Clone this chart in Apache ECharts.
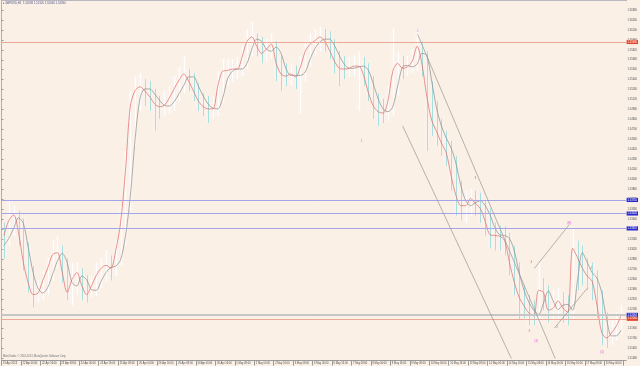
<!DOCTYPE html>
<html><head><meta charset="utf-8">
<script src="https://cdn.jsdelivr.net/npm/echarts@6/dist/echarts.min.js"></script>
<style>html,body{margin:0;padding:0;background:#FAF0E6;overflow:hidden}#c{width:640px;height:366px}</style>
</head><body><div id="c"></div>
<script>
// x-axis tick labels (every 16 H1 bars)
const tickLabels = ["19 Apr 2013","22 Apr 00:00","22 Apr 16:00","23 Apr 08:00","24 Apr 00:00","24 Apr 16:00","25 Apr 08:00","26 Apr 00:00","26 Apr 16:00","29 Apr 08:00","30 Apr 00:00","30 Apr 16:00","1 May 08:00","2 May 00:00","2 May 16:00","3 May 08:00","6 May 00:00","6 May 16:00","7 May 08:00","8 May 00:00","8 May 16:00","9 May 08:00","10 May 00:00","10 May 16:00","13 May 08:00","14 May 00:00","14 May 16:00","15 May 08:00","16 May 00:00","16 May 16:00","17 May 08:00","20 May 00:00"];

// 4-hour samples: fast average (red), slow average (dark), bar highs and lows
const fast = [1.5321,1.5342,1.5350,1.5325,1.5283,1.5254,1.5238,1.5240,1.5258,1.5275,1.5294,1.5297,1.5269,1.5241,1.5259,1.5269,1.5251,1.5238,1.5250,1.5265,1.5275,1.5279,1.5275,1.5300,1.5339,1.5412,1.5503,1.5525,1.5530,1.5524,1.5516,1.5506,1.5502,1.5504,1.5514,1.5527,1.5539,1.5548,1.5538,1.5524,1.5510,1.5502,1.5499,1.5499,1.5531,1.5552,1.5553,1.5555,1.5555,1.5572,1.5594,1.5600,1.5587,1.5577,1.5583,1.5590,1.5563,1.5548,1.5545,1.5548,1.5544,1.5558,1.5580,1.5590,1.5595,1.5600,1.5594,1.5581,1.5566,1.5556,1.5555,1.5556,1.5559,1.5559,1.5546,1.5521,1.5503,1.5495,1.5493,1.5510,1.5552,1.5563,1.5556,1.5558,1.5566,1.5587,1.5562,1.5516,1.5483,1.5467,1.5451,1.5437,1.5405,1.5377,1.5363,1.5363,1.5373,1.5366,1.5359,1.5341,1.5322,1.5321,1.5320,1.5314,1.5283,1.5255,1.5234,1.5222,1.5212,1.5208,1.5244,1.5241,1.5216,1.5219,1.5229,1.5219,1.5213,1.5303,1.5290,1.5275,1.5264,1.5257,1.5223,1.5184,1.5177,1.5184,1.5194,1.5209];
const slow = [1.5307,1.5317,1.5331,1.5346,1.5338,1.5304,1.5269,1.5247,1.5240,1.5248,1.5266,1.5285,1.5296,1.5283,1.5255,1.5250,1.5264,1.5259,1.5245,1.5244,1.5257,1.5269,1.5276,1.5278,1.5287,1.5320,1.5376,1.5457,1.5514,1.5527,1.5527,1.5520,1.5511,1.5504,1.5503,1.5509,1.5520,1.5532,1.5544,1.5544,1.5531,1.5517,1.5506,1.5500,1.5499,1.5514,1.5541,1.5552,1.5555,1.5555,1.5563,1.5583,1.5597,1.5594,1.5583,1.5580,1.5586,1.5577,1.5556,1.5546,1.5546,1.5546,1.5551,1.5569,1.5584,1.5593,1.5597,1.5597,1.5588,1.5574,1.5562,1.5556,1.5556,1.5558,1.5559,1.5553,1.5534,1.5513,1.5499,1.5495,1.5502,1.5531,1.5558,1.5560,1.5558,1.5562,1.5577,1.5574,1.5538,1.5500,1.5475,1.5458,1.5444,1.5422,1.5391,1.5370,1.5363,1.5367,1.5370,1.5363,1.5350,1.5332,1.5322,1.5321,1.5317,1.5299,1.5269,1.5244,1.5227,1.5216,1.5210,1.5226,1.5243,1.5229,1.5217,1.5223,1.5224,1.5216,1.5258,1.5297,1.5283,1.5269,1.5261,1.5240,1.5203,1.5180,1.5180,1.5188];
const high = [1.5339,1.5370,1.5363,1.5356,1.5345,1.5311,1.5278,1.5258,1.5272,1.5289,1.5314,1.5320,1.5307,1.5289,1.5283,1.5283,1.5275,1.5265,1.5265,1.5283,1.5289,1.5300,1.5293,1.5314,1.5363,1.5440,1.5524,1.5545,1.5549,1.5541,1.5538,1.5527,1.5517,1.5524,1.5531,1.5545,1.5558,1.5573,1.5555,1.5549,1.5535,1.5521,1.5517,1.5517,1.5552,1.5569,1.5569,1.5569,1.5572,1.5587,1.5611,1.5622,1.5605,1.5600,1.5597,1.5605,1.5594,1.5573,1.5563,1.5563,1.5560,1.5573,1.5594,1.5605,1.5611,1.5615,1.5611,1.5608,1.5597,1.5580,1.5573,1.5572,1.5574,1.5580,1.5572,1.5563,1.5545,1.5521,1.5513,1.5531,1.5612,1.5580,1.5573,1.5574,1.5583,1.5611,1.5594,1.5580,1.5538,1.5510,1.5485,1.5468,1.5454,1.5433,1.5398,1.5384,1.5387,1.5384,1.5381,1.5370,1.5359,1.5339,1.5335,1.5334,1.5325,1.5307,1.5283,1.5251,1.5237,1.5230,1.5283,1.5261,1.5251,1.5244,1.5247,1.5241,1.5237,1.5331,1.5314,1.5307,1.5289,1.5283,1.5272,1.5244,1.5213,1.5205,1.5213,1.5223];
const low = [1.5289,1.5307,1.5320,1.5307,1.5272,1.5241,1.5220,1.5227,1.5230,1.5238,1.5258,1.5275,1.5255,1.5230,1.5223,1.5237,1.5230,1.5227,1.5233,1.5236,1.5247,1.5255,1.5258,1.5264,1.5279,1.5307,1.5356,1.5447,1.5496,1.5503,1.5496,1.5468,1.5485,1.5489,1.5493,1.5496,1.5510,1.5521,1.5524,1.5510,1.5496,1.5489,1.5479,1.5485,1.5489,1.5507,1.5531,1.5538,1.5541,1.5545,1.5555,1.5573,1.5573,1.5563,1.5566,1.5569,1.5538,1.5524,1.5531,1.5532,1.5527,1.5492,1.5538,1.5558,1.5573,1.5580,1.5580,1.5569,1.5549,1.5531,1.5541,1.5544,1.5544,1.5496,1.5531,1.5510,1.5485,1.5475,1.5479,1.5482,1.5489,1.5517,1.5541,1.5545,1.5549,1.5552,1.5545,1.5440,1.5461,1.5447,1.5433,1.5419,1.5384,1.5349,1.5342,1.5339,1.5349,1.5349,1.5339,1.5321,1.5303,1.5300,1.5300,1.5293,1.5265,1.5237,1.5202,1.5205,1.5195,1.5195,1.5199,1.5216,1.5199,1.5202,1.5205,1.5199,1.5195,1.5205,1.5244,1.5251,1.5244,1.5230,1.5205,1.5167,1.5163,1.5167,1.5174,1.5181];

// horizontal levels on the chart
const redLevels = [1.5593, 1.5204];
const blueLevels = [1.5371, 1.5352, 1.5331];
const bidPrice = 1.52094;
// trend lines: [[barIndex, price], [barIndex, price]]
const trendLines = [
  [[342.4, 1.56038], [455.7, 1.5148]],
  [[330.1, 1.5475], [419.6, 1.5148]],
  [[438.5, 1.52748], [467.2, 1.53364]],
  [[454.9, 1.51908], [482.0, 1.52468]]
];
// wave count labels: [barIndex, price, text, kind]
const waveLabels = [
  [342.4, 1.5608, "2", "m"], [296.4, 1.5453, "1", "m"], [390.0, 1.5402, "3", "r"],
  [467.2, 1.5339, "(B)", "m"], [436.0, 1.5283, "4", "r"], [485.3, 1.5275, "4", "r"],
  [434.4, 1.5187, "3", "r"], [440.0, 1.5173, "(3)", "m"], [494.3, 1.5157, "(5)", "m"],
  [457.3, 1.5192, "2", "g"]
];

const xs = fast.map((_, i) => i * 4 + 2);
const FONT = '"Liberation Sans", "DejaVu Sans", sans-serif';
const chart = echarts.init(document.getElementById('c'), null, {renderer: 'canvas'});

const barData = high.map((h, i) => [xs[i], low[i], h, i > 0 && fast[i] >= fast[i - 1] ? 1 : 0]);
const axisTag = (v, bg) => ({show: true, position: 'end', formatter: v.toFixed(5), color: '#fff', backgroundColor: bg,
  fontSize: 2.6, padding: [0.6, 1], distance: 0.5, fontFamily: FONT});
const levelLines = [];
levelLines.push({yAxis: bidPrice, lineStyle: {color: '#c6c6c6', width: 2, type: 'solid'}, label: axisTag(bidPrice, '#2a2ad0')});
redLevels.forEach(v => levelLines.push({yAxis: v, lineStyle: {color: '#e9a898', width: 1, type: 'solid'}, label: axisTag(v, '#e2462a')}));
blueLevels.forEach(v => levelLines.push({yAxis: v, lineStyle: {color: '#a4a4ea', width: 1, type: 'solid'}, label: axisTag(v, '#2a2ad0')}));
trendLines.forEach(t => levelLines.push([{coord: t[0], lineStyle: {color: '#969696', width: 0.7, type: 'solid'}, label: {show: false}}, {coord: t[1]}]));

const labelColor = {m: '#e040e0', r: '#e04848', g: '#808080'};

chart.setOption({
  backgroundColor: '#FAF0E6',
  animation: false,
  grid: {left: 1, right: 13, top: -1.4, bottom: 7.4, show: false},
  xAxis: {
    type: 'value', min: 0, max: 514, interval: 16, offset: 2,
    axisLine: {show: true, lineStyle: {color: '#9a9a9a', width: 1}},
    axisTick: {show: true, length: 5, lineStyle: {color: '#9a9a9a'}},
    splitLine: {show: false},
    axisLabel: {show: true, align: 'left', margin: 1, padding: [0, 0, 0, 1.5], fontSize: 2.6, color: '#505050', fontFamily: FONT,
      showMaxLabel: false, formatter: v => tickLabels[Math.round(v / 16)] || ''}
  },
  yAxis: {
    type: 'value', position: 'right', min: 1.5148, max: 1.5652, interval: 0.0014,
    axisLine: {show: true, lineStyle: {color: '#b0b0b8', width: 1}},
    axisTick: {show: true, length: 2, lineStyle: {color: '#9a9a9a'}},
    splitLine: {show: false},
    axisLabel: {show: true, margin: 1.5, fontSize: 2.6, color: '#505050', fontFamily: FONT, showMaxLabel: false,
      formatter: v => v.toFixed(5)}
  },
  series: [
    {type: 'custom', name: 'bars', data: barData, encode: {x: 0, y: [1, 2]}, z: 1,
      renderItem: (params, api) => {
        const p1 = api.coord([api.value(0), api.value(1)]);
        const p2 = api.coord([api.value(0), api.value(2)]);
        const w = api.size([4, 0])[0];
        const x = Math.round(p1[0]) + 0.5;
        return {type: 'group', children: [
          {type: 'rect', shape: {x: p1[0] - w / 2, y: p2[1], width: w, height: p1[1] - p2[1]},
            style: {fill: 'rgba(255,255,255,0.2)'}},
          {type: 'line', shape: {x1: x, y1: p1[1], x2: x, y2: p2[1]},
            style: {stroke: api.value(3) ? '#ffffff' : '#a8dede', lineWidth: 1}}
        ]};
      }},
    {type: 'line', name: 'slow', data: xs.map((x, i) => [x, slow[i]]), showSymbol: false, smooth: 0.3, z: 2,
      lineStyle: {color: '#8a8a8a', width: 0.7}},
    {type: 'line', name: 'fast', data: xs.map((x, i) => [x, fast[i]]), showSymbol: false, smooth: 0.3, z: 3,
      lineStyle: {color: '#e26464', width: 0.7},
      markLine: {silent: true, precision: 5, symbol: ['none', 'none'], animation: false, data: levelLines}},
    {type: 'scatter', name: 'waves', symbolSize: 0, z: 4,
      data: waveLabels.map(w => ({value: [w[0], w[1]], name: w[2],
        label: {show: true, position: 'inside', formatter: w[2], color: labelColor[w[3]], fontSize: 3.2, fontFamily: FONT}}))}
  ],
  graphic: [
    {type: 'line', shape: {x1: 1, y1: 0.5, x2: 627, y2: 0.5}, style: {stroke: '#b8b8c0', lineWidth: 1}},
    {type: 'line', shape: {x1: 1.5, y1: 0, x2: 1.5, y2: 360}, style: {stroke: '#b8b8c8', lineWidth: 1}},
    {type: 'text', left: 3, top: 2, style: {text: '\u25B8 GBPUSD,H1  1.52098 1.52105 1.52060 1.52094', fontSize: 2.8, fill: '#505088', fontFamily: FONT}},
    {type: 'text', left: 3, top: 355, style: {text: 'MetaTrader, \u00A9 2001-2013, MetaQuotes Software Corp.', fontSize: 2.6, fill: '#707070', fontFamily: FONT}}
  ]
});
</script></body></html>
